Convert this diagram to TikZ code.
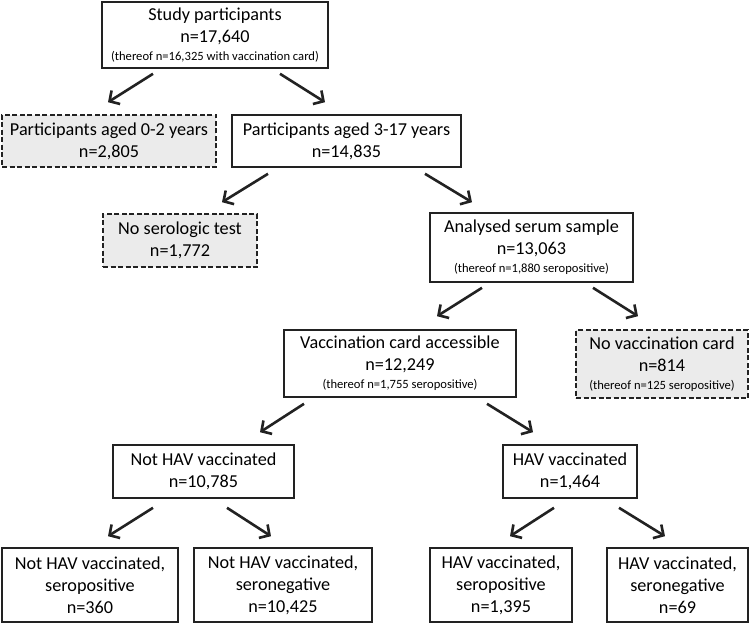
\documentclass[tikz,border=0pt]{standalone}
\usepackage{fontspec}
\setmainfont{Carlito}
\usetikzlibrary{arrows.meta}
\newcommand\bigtxt{\fontsize{18.2}{22}\selectfont}
\newcommand\smalltxt{\fontsize{12.6}{14}\selectfont}
\definecolor{boxgray}{HTML}{EBEBEB}
\definecolor{linegray}{HTML}{222222}

\begin{document}
\begin{tikzpicture}[x=1pt,y=-1pt,
    flowbox/.style={draw=linegray,line width=1.6pt,align=center,inner sep=0pt,font=\bigtxt},
    dropbox/.style={flowbox,fill=boxgray,dash pattern=on 5pt off 2.5pt},
    arr/.style={draw=linegray,line width=2.6pt,-{Straight Barb[length=7.5pt,width=16pt]}}]
                \useasboundingbox (0,0) rectangle (750,623);
                % boxes
                \node[flowbox,minimum width=226,minimum height=66] (study) at (215,35) {Study participants\\n=17,640\\[-4pt]{\smalltxt (thereof n=16,325 with vaccination card)}};
                \node[dropbox,minimum width=214,minimum height=52] (age02) at (109,141) {Participants aged 0-2 years\\n=2,805};
                \node[flowbox,minimum width=229,minimum height=52] (age317) at (346.5,141) {Participants aged 3-17 years\\n=14,835};
                \node[dropbox,minimum width=154,minimum height=53] (noser) at (180,240.5) {No serologic test\\n=1,772};
                \node[flowbox,minimum width=203,minimum height=69] (serum) at (531.5,247.5) {Analysed serum sample\\n=13,063\\[-4pt]{\smalltxt (thereof n=1,880 seropositive)}};
                \node[flowbox,minimum width=232,minimum height=67] (vacc) at (400,363.5) {Vaccination card accessible\\n=12,249\\[-4pt]{\smalltxt (thereof n=1,755 seropositive)}};
                \node[dropbox,minimum width=172,minimum height=68] (novacc) at (662,364) {No vaccination card\\n=814\\[-4pt]{\smalltxt (thereof n=125 seropositive)}};
                \node[flowbox,minimum width=181,minimum height=53] (nhv) at (203.5,471.5) {Not HAV vaccinated\\n=10,785};
                \node[flowbox,minimum width=134,minimum height=53] (hav) at (570,471.5) {HAV vaccinated\\n=1,464};
                \node[flowbox,minimum width=176,minimum height=74] (nhvpos) at (90,585) {Not HAV vaccinated,\\seropositive\\n=360};
                \node[flowbox,minimum width=178,minimum height=74] (nhvneg) at (283,585) {Not HAV vaccinated,\\seronegative\\n=10,425};
                \node[flowbox,minimum width=142,minimum height=74] (havpos) at (501,585) {HAV vaccinated,\\seropositive\\n=1,395};
                \node[flowbox,minimum width=141,minimum height=74] (havneg) at (677.5,585) {HAV vaccinated,\\seronegative\\n=69};
                % arrows
                \draw[arr] ([xshift=-62pt,yshift=-5pt]study.south) -- ([xshift=-1pt,yshift=12pt]age02.north);
                \draw[arr] ([xshift=65pt,yshift=-5pt]study.south) -- ([xshift=-21.5pt,yshift=12pt]age317.north);
                \draw[arr] ([xshift=-78.5pt,yshift=-6pt]age317.south) -- ([xshift=42pt,yshift=11pt]noser.north);
                \draw[arr] ([xshift=78.5pt,yshift=-6pt]age317.south) -- ([xshift=-59.5pt,yshift=10pt]serum.north);
                \draw[arr] ([xshift=-49.5pt,yshift=-5pt]serum.south) -- ([xshift=37pt,yshift=13pt]vacc.north);
                \draw[arr] ([xshift=61.5pt,yshift=-5pt]serum.south) -- ([xshift=-24pt,yshift=13pt]novacc.north);
                \draw[arr] ([xshift=-96pt,yshift=-6pt]vacc.south) -- ([xshift=56.5pt,yshift=12pt]nhv.north);
                \draw[arr] ([xshift=87pt,yshift=-6pt]vacc.south) -- ([xshift=-37pt,yshift=12pt]hav.north);
                \draw[arr] ([xshift=-50.5pt,yshift=-9pt]nhv.south) -- ([xshift=18pt,yshift=11pt]nhvpos.north);
                \draw[arr] ([xshift=23.5pt,yshift=-9pt]nhv.south) -- ([xshift=-12pt,yshift=11pt]nhvneg.north);
                \draw[arr] ([xshift=-16pt,yshift=-9pt]hav.south) -- ([xshift=9pt,yshift=11pt]havpos.north);
                \draw[arr] ([xshift=49pt,yshift=-9pt]hav.south) -- ([xshift=-12.5pt,yshift=11pt]havneg.north);
\end{tikzpicture}
\end{document}
